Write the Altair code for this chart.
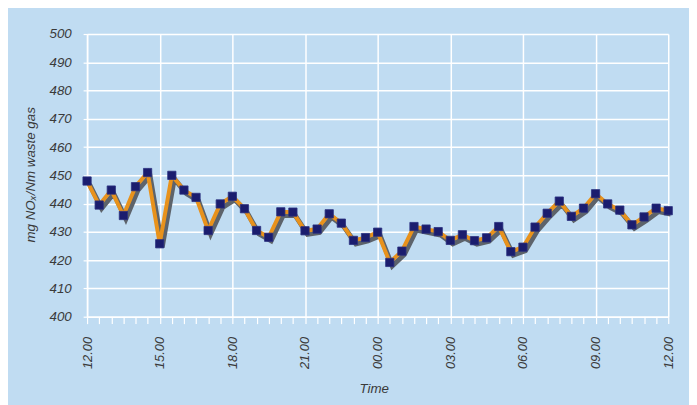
import altair as alt
import pandas as pd

# half-hourly readings from 12.00 to 12.00 next day (hours since start)
hours = [i * 0.5 for i in range(49)]
nox = [448, 439.5, 444.8, 435.8, 446, 451, 425.8, 450, 444.8, 442.2,
       430.5, 439.9, 442.6, 438.2, 430.5, 428.1, 437.1, 437, 430.4, 431,
       436.4, 433.1, 427, 428, 429.9, 419.2, 423.2, 431.9, 431, 430.1,
       427, 429, 426.9, 427.9, 431.9, 423, 424.6, 431.7, 436.6, 440.9,
       435.5, 438.4, 443.5, 439.9, 437.7, 432.5, 435.3, 438.4, 437.5]
y_ticks = list(range(400, 501, 10))
x_ticks = [i * 0.5 for i in range(49)]

df = pd.DataFrame({"hour": hours, "nox": nox})

BG = "#C0DCF2"
TXT = "#3a3a3a"
FONT = "Liberation Sans"

label_expr = ("datum.value % 3 === 0 ? ((((12 + datum.value) % 24) < 10 ? '0' : '') "
              "+ ((12 + datum.value) % 24) + '.00') : ''")

x_enc = alt.X(
    "hour:Q",
    scale=alt.Scale(domain=[0, 24], nice=False, zero=False),
    axis=alt.Axis(
        values=x_ticks,
        labelExpr=label_expr,
        labelAngle=270,
        labelFont=FONT, labelFontStyle="italic", labelFontSize=13, labelColor=TXT,
        labelPadding=13,
        tickColor="white", tickSize=7, tickWidth=1.2,
        domainColor="white", domainWidth=1.5,
        grid=True, gridColor="white", gridWidth=1.5,
        gridOpacity={"condition": {"test": "datum.value % 3 === 0", "value": 1}, "value": 0},
        title="Time", titleFont=FONT, titleFontStyle="italic", titleFontWeight="normal",
        titleFontSize=13.5, titleColor=TXT, titleX=290, titleY=73,
        titleBaseline="middle", titleAlign="center",
        labelOverlap=False,
    ),
)

y_enc = alt.Y(
    "nox:Q",
    scale=alt.Scale(domain=[400, 500], nice=False, zero=False),
    axis=alt.Axis(
        values=y_ticks,
        labelFont=FONT, labelFontStyle="italic", labelFontSize=13.5, labelColor=TXT,
        labelPadding=12,
        tickColor="white", tickSize=4, tickWidth=1.2,
        domainColor="white", domainWidth=1.5,
        grid=True, gridColor="white", gridWidth=1.5,
        title="mg NOₓ/Nm waste gas", titleFont=FONT, titleFontStyle="italic",
        titleFontWeight="normal", titleFontSize=13.5, titleColor=TXT,
        titleAngle=270, titleX=-57, titleY=142, titleAlign="center", titleBaseline="middle",
    ),
)

base = alt.Chart(df).encode(x=x_enc, y=y_enc)

shadow = base.mark_line(color="#5d636b", strokeWidth=5, xOffset=2.5, yOffset=3.5,
                        strokeJoin="miter")
line = base.mark_line(color="#E8921C", strokeWidth=4, strokeJoin="miter")
points = base.mark_point(shape="square", filled=True, size=70, color="#1B1D6E",
                         opacity=1, stroke="#2a3080", strokeWidth=0.8)

chart = (
    alt.layer(shadow, line, points)
    .properties(width=588, height=286, background=BG,
                padding={"left": 80, "top": 24, "right": 21, "bottom": 87},
                autosize=alt.AutoSizeParams(type="none"))
    .configure_view(stroke=None)
)

chart.save("out.html", embed_options={"renderer": "svg", "actions": False})
